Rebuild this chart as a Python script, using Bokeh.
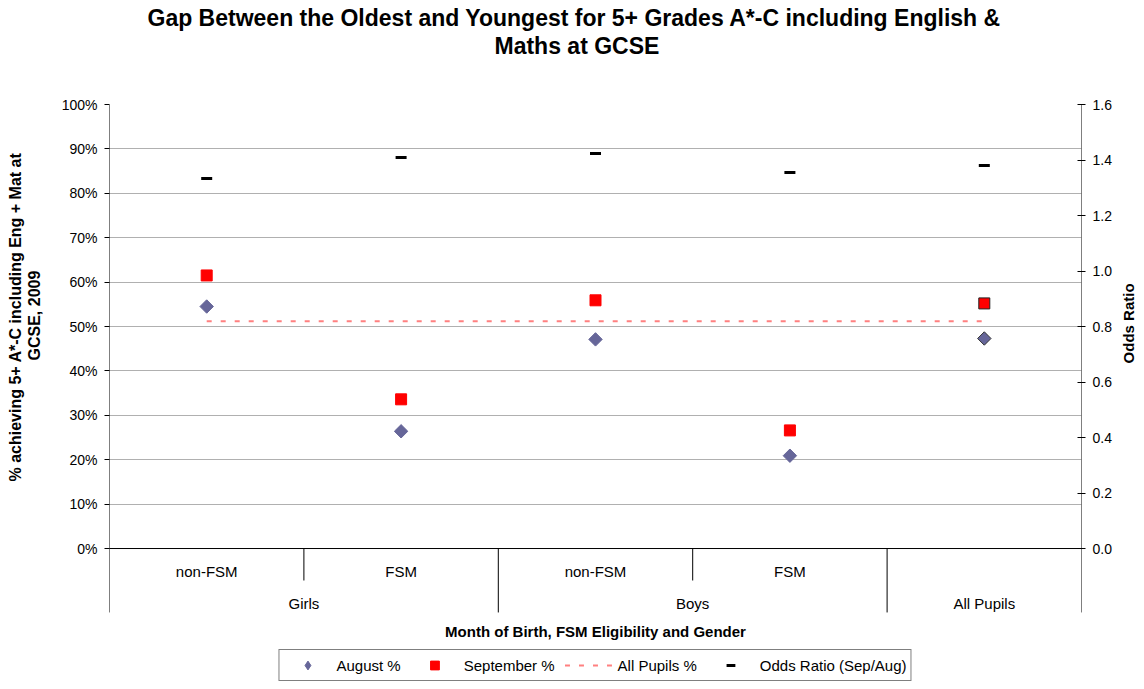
import math
from bokeh.plotting import figure
from bokeh.layouts import row
from bokeh.models import (ColumnDataSource, Range1d, LinearAxis, FixedTicker,
                          PrintfTickFormatter, Title, Legend, LegendItem)
from bokeh.core.properties import value
from bokeh.embed import file_html
from bokeh.resources import INLINE

# ---------------- data ----------------
subgroups = ["non-FSM", "FSM", "non-FSM", "FSM", ""]
groups = ["Girls", "Boys", "All Pupils"]
group_spans = [(0, 2), (2, 4), (4, 5)]
august = [54.5, 26.4, 47.1, 20.9, 47.3]
september = [61.5, 33.6, 55.9, 26.6, 55.2]
all_pupils_pct = 51.2
odds_ratio = [1.333, 1.409, 1.423, 1.355, 1.380]
y_ticks = [0, 10, 20, 30, 40, 50, 60, 70, 80, 90, 100]
odds_ticks = [0.0, 0.2, 0.4, 0.6, 0.8, 1.0, 1.2, 1.4, 1.6]

FONT = "Liberation Sans"
n = len(august)
xs = [i + 0.5 for i in range(n)]
H = 681

Y_BOTTOM = -29.95
y_range = Range1d(Y_BOTTOM, 100)
odds_range = Range1d(Y_BOTTOM / 100 * 1.6, 1.6)

p = figure(width=1116, height=H, output_backend="svg", toolbar_location=None,
           x_range=Range1d(0, n), y_range=y_range, x_axis_location=None,
           min_border_left=109, min_border_right=35, min_border_top=104,
           min_border_bottom=0, outline_line_color=None)
p.extra_y_ranges = {"odds": odds_range}

# left axis
ya = p.yaxis[0]
ya.ticker = FixedTicker(ticks=y_ticks)
ya.formatter = PrintfTickFormatter(format="%d%%")
ya.axis_line_color = None
ya.major_tick_out = 5
ya.major_tick_in = 0
ya.minor_tick_line_color = None
ya.major_label_text_font = FONT
ya.major_label_text_font_size = "14px"
ya.major_label_text_color = "black"
ya.major_label_standoff = 7

# right axis
ra = LinearAxis(y_range_name="odds", ticker=FixedTicker(ticks=odds_ticks),
                formatter=PrintfTickFormatter(format="%.1f"))
ra.axis_line_color = None
ra.major_tick_out = 4
ra.major_tick_in = 4
ra.minor_tick_line_color = None
ra.major_label_text_font = FONT
ra.major_label_text_font_size = "14px"
ra.major_label_text_color = "black"
ra.major_label_standoff = 7
p.add_layout(ra, "right")

# left axis title as side titles (so it can be positioned along the axis)
left_spacer = Title(text=" ", text_font=FONT, text_font_size="8px", standoff=5)
yl2 = Title(text="GCSE, 2009", align="left", offset=321, text_font=FONT,
            text_font_size="16px", text_font_style="bold", text_color="black",
            standoff=0)
yl1 = Title(text="% achieving 5+ A*-C including Eng + Mat at", align="left",
            offset=200, text_font=FONT, text_font_size="16px",
            text_font_style="bold", text_color="black", standoff=0)
p.add_layout(left_spacer, "left")
p.add_layout(yl2, "left")
p.add_layout(yl1, "left")

p.xgrid.visible = False
p.ygrid.grid_line_color = "#B0B0B0"
p.ygrid.grid_line_width = 1

# axis lines and category separators (drawn in data space)
long_depth = -14.4
short_depth = -7.2
bounds = [0] + [b for _, b in group_spans]
inner = [b for (a, b) in group_spans for b in range(a + 1, b)]
p.segment(x0=[0, n], y0=[long_depth, long_depth], x1=[0, n], y1=[100, 100],
          line_color="black", line_width=1)
p.segment(x0=bounds[1:-1], y0=[long_depth] * (len(bounds) - 2),
          x1=bounds[1:-1], y1=[0] * (len(bounds) - 2), line_color="black", line_width=1)
p.segment(x0=inner, y0=[short_depth] * len(inner), x1=inner, y1=[0] * len(inner),
          line_color="black", line_width=1)
p.segment(x0=[-0.026], y0=[0], x1=[n], y1=[0], line_color="black", line_width=1)

# category labels
p.text(x=xs, y=[-5.18] * n, text=subgroups, text_font=value(FONT),
       text_font_size="15px", text_align="center", text_baseline="middle",
       text_color="black")
gx = [(a + b) / 2 for a, b in group_spans]
p.text(x=gx, y=[-12.39] * len(groups), text=groups, text_font=value(FONT),
       text_font_size="15px", text_align="center", text_baseline="middle",
       text_color="black")
p.text(x=[2.5], y=[-18.69], text=["Month of Birth, FSM Eligibility and Gender"],
       text_font=value(FONT), text_font_size="15px", text_font_style="bold",
       text_align="center", text_baseline="middle", text_color="black")

# series
line_r = p.line(x=[xs[0], xs[-1]], y=[all_pupils_pct, all_pupils_pct],
                line_color="#FF8080", line_width=2, line_dash="5 9")
aug_line = ["#666699"] * (n - 1) + ["#333333"]
sep_line = ["#FF0000"] * (n - 1) + ["#222222"]
src = ColumnDataSource(dict(x=xs, aug=august, sep=september, odds=odds_ratio,
                            aug_line=aug_line, sep_line=sep_line))
aug_r = p.scatter(x="x", y="aug", source=src, marker="square", angle=0.785398,
                  size=9.5, fill_color="#666699", line_color="aug_line", line_width=1)
sep_r = p.scatter(x="x", y="sep", source=src, marker="square", size=11,
                  fill_color="#FF0000", line_color="sep_line", line_width=1)
odds_r = p.scatter(x="x", y="odds", source=src, y_range_name="odds", marker="dash",
                   size=11, line_color="black", line_width=3)
# legend-only diamond (legend glyphs ignore marker rotation); kept outside the view
aug_key = p.scatter(x=[xs[0]], y=[Y_BOTTOM - 100], marker="diamond", size=13,
                    fill_color="#666699", line_color="#666699", line_width=1)

legend = Legend(items=[
    LegendItem(label="August %", renderers=[aug_key]),
    LegendItem(label="September %", renderers=[sep_r], index=0),
    LegendItem(label="All Pupils %", renderers=[line_r]),
    LegendItem(label="Odds Ratio (Sep/Aug)", renderers=[odds_r]),
], orientation="horizontal", location="bottom_center")
legend.label_text_font = FONT
legend.label_text_font_size = "15px"
legend.label_text_color = "black"
legend.border_line_color = "black"
legend.border_line_width = 1
legend.background_fill_alpha = 1
legend.glyph_width = 48
legend.glyph_height = 22
legend.label_height = 15
legend.spacing = 10
legend.padding = 4
legend.margin = 0
legend.label_standoff = 5
p.add_layout(legend)

# title (two lines), with a spacer between title and plot area
spacer = Title(text=" ", align="left", text_font=FONT, text_font_size="23px",
               standoff=18)
t2 = Title(text="Maths at GCSE", align="left", text_font=FONT,
           text_font_size="23px", text_font_style="bold", text_color="black",
           offset=385, standoff=0)
t1 = Title(text="Gap Between the Oldest and Youngest for 5+ Grades A*-C including English &",
           align="left", text_font=FONT, text_font_size="23px",
           text_font_style="bold", text_color="black", offset=38, standoff=0)
p.add_layout(spacer, "above")
p.add_layout(t2, "above")
p.add_layout(t1, "above")
p.title.visible = False

# right axis title in a narrow strip (reads bottom-to-top), sharing the y scale
strip = figure(width=24, height=H, output_backend="svg", toolbar_location=None,
               x_range=Range1d(0, 24), y_range=y_range,
               x_axis_location=None, y_axis_location=None,
               min_border=0, outline_line_color=None)
strip.grid.visible = False
strip.text(x=[12], y=[50.7], text=["Odds Ratio"], angle=math.pi / 2,
           text_font=value(FONT), text_font_size="15px", text_font_style="bold",
           text_align="center", text_baseline="middle", text_color="black")

layout = row(p, strip, spacing=0)
open("out.html", "w").write(file_html(layout, INLINE))
